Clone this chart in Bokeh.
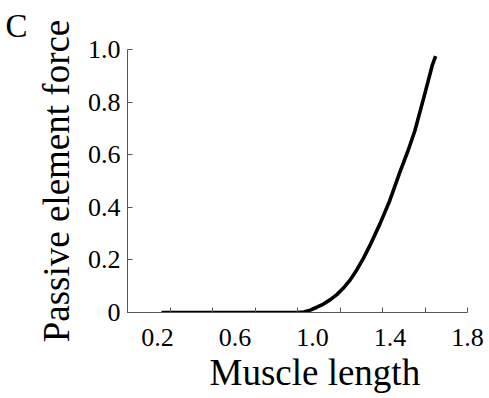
from bokeh.plotting import figure
from bokeh.models import (FixedTicker, LinearAxis, Range1d, Title,
                          PrintfTickFormatter, CustomLabelingPolicy)
from bokeh.embed import file_html
from bokeh.resources import INLINE

# Data
muscle_length = [0.36, 0.5, 0.6, 0.7, 0.8, 0.9, 1.0, 1.03, 1.06, 1.091, 1.12, 1.153, 1.185,
                 1.215, 1.248, 1.278, 1.31, 1.341, 1.388, 1.434, 1.481, 1.52, 1.552,
                 1.594, 1.635, 1.65]
passive_force = [0, 0, 0, 0, 0, 0, 0, 0.002, 0.009, 0.020, 0.031, 0.048, 0.068,
                 0.092, 0.124, 0.161, 0.206, 0.255, 0.337, 0.425, 0.532, 0.615, 0.690,
                 0.816, 0.942, 0.975]

x_ticks = [0.2, 0.4, 0.6, 0.8, 1.0, 1.2, 1.4, 1.6, 1.8]
x_label_ticks = [0.2, 0.6, 1.0, 1.4, 1.8]
y_ticks = [0, 0.2, 0.4, 0.6, 0.8, 1.0]

FONT = "Liberation Serif"
AXIS_COLOR = "#555555"

p = figure(width=489, height=398, output_backend="svg", toolbar_location=None,
           x_range=Range1d(0.2, 1.8), y_range=Range1d(0, 1.0),
           min_border_left=127, min_border_right=22,
           min_border_top=48, min_border_bottom=86)
p.outline_line_color = None
p.grid.visible = False
p.background_fill_color = "white"
p.border_fill_color = "white"

p.line(muscle_length, passive_force, line_color="black", line_width=3.6)

# x axis: ticks only (inward), labels suppressed
xa = p.xaxis[0]
xa.ticker = FixedTicker(ticks=x_ticks)
xa.major_tick_in = 5
xa.major_tick_out = 0
xa.minor_tick_line_color = None
xa.axis_line_color = AXIS_COLOR
xa.major_tick_line_color = AXIS_COLOR
xa.major_label_text_font_size = "1px"
xa.major_label_standoff = 0
xa.major_label_policy = CustomLabelingPolicy(code="""
    const all = [...indices]
    for (const i of all) indices.unset(i)
    return indices
""")

# label-only axis (labels sit slightly offset from the ticks in the reference)
p.extra_x_ranges = {"lab": Range1d(0.0452, 1.8001)}
xl = LinearAxis(x_range_name="lab", ticker=FixedTicker(ticks=x_label_ticks),
                formatter=PrintfTickFormatter(format="%.1f"))
xl.axis_line_color = None
xl.major_tick_line_color = None
xl.minor_tick_line_color = None
xl.major_label_text_font = FONT
xl.major_label_text_font_size = "26px"
xl.major_label_text_color = "black"
xl.major_label_standoff = 6
p.add_layout(xl, "below")

# y axis
ya = p.yaxis[0]
ya.ticker = FixedTicker(ticks=y_ticks)
ya.formatter = PrintfTickFormatter(format="%.1f")
ya.major_label_overrides = {0: "0"}
ya.major_tick_in = 5
ya.major_tick_out = 0
ya.minor_tick_line_color = None
ya.axis_line_color = AXIS_COLOR
ya.major_tick_line_color = AXIS_COLOR
ya.major_label_text_font = FONT
ya.major_label_text_font_size = "26px"
ya.major_label_text_color = "black"
ya.major_label_standoff = 7
ya.axis_label = "Passive element force"
ya.axis_label_text_font = FONT
ya.axis_label_text_font_size = "37px"
ya.axis_label_text_font_style = "normal"
ya.axis_label_text_color = "black"
ya.axis_label_standoff = 8

p.add_layout(Title(text="Muscle length", align="left", offset=82,
                   text_font=FONT, text_font_size="37px", text_font_style="normal",
                   text_color="black", standoff=2), "below")
p.add_layout(Title(text="C", align="left", offset=-122,
                   text_font=FONT, text_font_size="33px", text_font_style="normal",
                   text_color="black", standoff=11), "above")

open("out.html", "w").write(file_html(p, INLINE))
